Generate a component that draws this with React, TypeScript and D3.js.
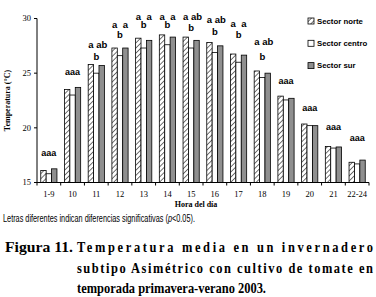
import React, { useLayoutEffect, useRef, useState } from "react";
import * as d3 from "d3";

const categories = ["1-9","10","11","12","13","14","15","16","17","18","19","20","21","22-24"];
const norte = [16.1,23.5,25.8,27.3,28.2,28.5,28.3,27.8,26.75,25.2,22.9,20.35,18.3,16.85];
const centro = [15.8,23.0,25.0,26.6,27.3,27.6,27.3,26.9,26.0,24.6,22.55,20.2,18.15,16.7];
const sur = [16.25,23.7,25.7,27.3,28.0,28.3,28.0,27.5,26.65,25.0,22.7,20.2,18.25,17.05];
const yTicks = [15,20,25,30];

// significance letters: combined ("aaa") or per sector
const lettersCombined = ["aaa","aaa","","","","","","","","","aaa","aaa","aaa","aaa"];
const lettersNorte = ["","","a","a","a","a","a","a","a","a","","","",""];
const lettersCentro = ["","","b","b","b","b","b","b","b","b","","","",""];
const lettersSur = ["","","ab","a","a","a","ab","ab","a","ab","","","",""];
// annotation heights in °C
const levelTop = [17.7,25.1,27.6,29.4,30.2,30.2,30.2,29.85,29.5,27.85,24.3,21.8,20.1,19.1];
const levelCentro = [0,0,26.5,28.5,29.4,29.4,29.2,28.8,28.5,26.5,0,0,0,0];

const seriesNames = ["Sector norte","Sector centro","Sector sur"];
const seriesKeys = ["norte","centro","sur"];

const captionLines = [
  "Temperatura media en un invernadero",
  "subtipo Asimétrico con cultivo de tomate en",
  "temporada primavera-verano 2003.",
];

export default function App() {
  const W = 376, H = 297;
  const x0 = 37, x1 = 369;
  const y = d3.scaleLinear().domain([15, 30]).range([182.5, 18.5]);
  const x = d3.scaleBand().domain(categories).range([x0, x1]).paddingInner(0).paddingOuter(0);
  const bw = x.bandwidth();
  const groupW = 16.2;
  const sub = d3.scaleBand().domain(seriesKeys).range([0, groupW]);
  const off = (bw - groupW) / 2;
  const values = { norte, centro, sur };
  const fills = { norte: "url(#hatch)", centro: "#ffffff", sur: "#8f8f8f" };
  const serif = "Liberation Serif, Times New Roman, Times, serif";
  const sans = "Liberation Sans, Arial, sans-serif";
  const base = y(15);

  const footRef = useRef<SVGTextElement>(null);
  const capRef = useRef<SVGTextElement>(null);
  const [footScale, setFootScale] = useState(0.7);
  const [capScale, setCapScale] = useState(0.83);
  useLayoutEffect(() => {
    if (footRef.current) {
      const w = footRef.current.getComputedTextLength();
      if (w > 0) setFootScale(192 / w);
    }
    if (capRef.current) {
      const w = capRef.current.getComputedTextLength();
      if (w > 0) setCapScale(189 / w);
    }
  }, []);

  return (
    <svg width={W} height={H} style={{ position: "absolute", left: 0, top: 0, background: "#fff" }}>
      <defs>
        <pattern id="hatch" patternUnits="userSpaceOnUse" width="3.6" height="3.6" patternTransform="rotate(45)">
          <rect width="3.6" height="3.6" fill="#fff" />
          <line x1="0" y1="0" x2="0" y2="3.6" stroke="#000" strokeWidth="1.1" />
        </pattern>
      </defs>
      <rect width={W} height={H} fill="#fff" />

      {/* bars */}
      {categories.map((c, i) => (
        <g key={c}>
          {seriesKeys.map((k) => {
            const v = values[k][i];
            const bx = (x(c) as number) + off + (sub(k) as number);
            return (
              <rect key={k} x={bx} y={y(v)} width={sub.bandwidth()} height={base - y(v)}
                fill={fills[k]} stroke="#000" strokeWidth={0.8} />
            );
          })}
        </g>
      ))}

      {/* axes */}
      <line x1={x0} x2={x0} y1={y(30)} y2={base} stroke="#000" strokeWidth={1} />
      <line x1={x0} x2={x1} y1={base} y2={base} stroke="#000" strokeWidth={1} />
      {yTicks.map((t) => (
        <g key={t}>
          <line x1={x0 - 3} x2={x0} y1={y(t)} y2={y(t)} stroke="#000" />
          <text x={x0 - 6} y={y(t)} dy="0.35em" textAnchor="end" fontFamily={serif} fontSize={8.5}>{t}</text>
        </g>
      ))}
      {categories.map((c) => (
        <line key={"t" + c} x1={x(c)} x2={x(c)} y1={base} y2={base + 3} stroke="#000" />
      ))}
      <line x1={x1} x2={x1} y1={base} y2={base + 3} stroke="#000" />
      {categories.map((c) => (
        <text key={"l" + c} x={(x(c) as number) + bw / 2} y={194} dy="0.35em" textAnchor="middle"
          fontFamily={serif} fontSize={8.5}>{c}</text>
      ))}
      <text x={196} y={207} textAnchor="middle" fontFamily={serif} fontSize={8} fontWeight="bold">Hora del día</text>
      <text transform={`translate(10,${(y(30) + base) / 2}) rotate(-90)`} textAnchor="middle"
        fontFamily={serif} fontSize={8} fontWeight="bold">Temperatura (°C)</text>

      {/* significance letters */}
      {categories.map((c, i) => {
        const gx = (x(c) as number) + off;
        const els = [];
        if (lettersCombined[i]) {
          els.push(<text key="c" x={gx + groupW / 2} y={y(levelTop[i])} dy="0.35em" textAnchor="middle"
            fontFamily={sans} fontWeight="bold" fontSize={9}>{lettersCombined[i]}</text>);
        } else {
          els.push(<text key="n" x={gx + (sub("norte") as number) + sub.bandwidth() / 2} y={y(levelTop[i])} dy="0.35em"
            textAnchor="middle" fontFamily={sans} fontWeight="bold" fontSize={9.5}>{lettersNorte[i]}</text>);
          els.push(<text key="s" x={gx + (sub("sur") as number) + sub.bandwidth() / 2} y={y(levelTop[i])} dy="0.35em"
            textAnchor="middle" fontFamily={sans} fontWeight="bold" fontSize={9.5}>{lettersSur[i]}</text>);
          els.push(<text key="m" x={gx + groupW / 2} y={y(levelCentro[i])} dy="0.35em"
            textAnchor="middle" fontFamily={sans} fontWeight="bold" fontSize={9.5}>{lettersCentro[i]}</text>);
        }
        return <g key={"a" + c}>{els}</g>;
      })}

      {/* legend */}
      {seriesKeys.map((k, i) => (
        <g key={"lg" + k} transform={`translate(308,${21 + i * 22.3})`}>
          <rect x={0} y={-3} width={6} height={6} fill={fills[k]} stroke="#000" strokeWidth={0.8} />
          <text x={9} y={0} dy="0.35em" fontFamily={sans} fontWeight="bold" fontSize={7.8}>{seriesNames[i]}</text>
        </g>
      ))}

      {/* footnote */}
      <g transform={`translate(3,222) scale(${footScale},1)`}>
        <text ref={footRef} x={0} y={0} fontFamily={sans} fontSize={10}>
          Letras diferentes indican diferencias significativas (<tspan fontStyle="italic">p</tspan>&lt;0.05).
        </text>
      </g>

      {/* caption, horizontally condensed like the reference */}
      <g transform={`translate(0,0) scale(${capScale},1)`} fontFamily={serif} fontWeight="bold" fontSize={15.5}>
        <text x={5 / capScale} y={252} textLength={68 / capScale} lengthAdjust="spacingAndGlyphs">Figura 11.</text>
        <text x={77 / capScale} y={252} textLength={296 / capScale} lengthAdjust="spacing">{captionLines[0]}</text>
        <text x={77 / capScale} y={273} textLength={296 / capScale} lengthAdjust="spacing">{captionLines[1]}</text>
        <text ref={capRef} x={77 / capScale} y={293}>{captionLines[2]}</text>
      </g>
    </svg>
  );
}
